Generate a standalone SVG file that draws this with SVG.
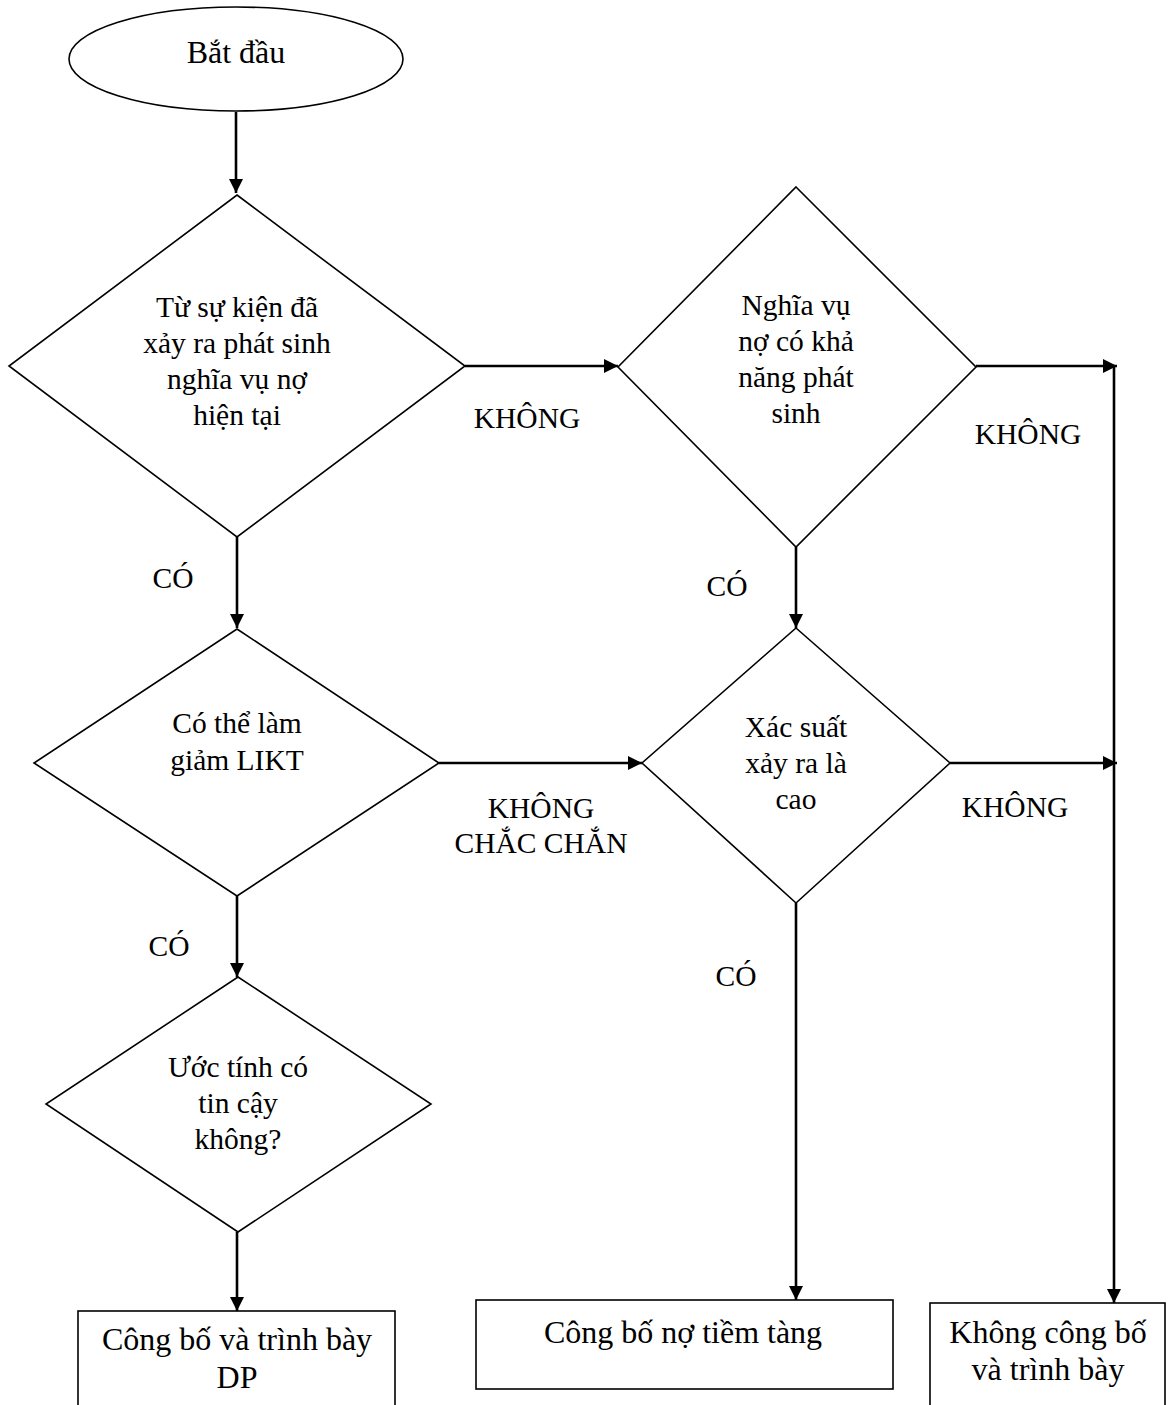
<svg xmlns="http://www.w3.org/2000/svg" width="1168" height="1405" viewBox="0 0 1168 1405">
  <style>
    .shape { fill: #ffffff; stroke: #000000; stroke-width: 1.6; }
    .wire { fill: none; stroke: #000000; stroke-width: 2.6; }
    text { font-family: "Liberation Serif", "Times New Roman", serif; fill: #000000; text-anchor: middle; }
    .big { font-size: 32px; }
    .mid { font-size: 29.5px; }
  </style>
  <defs>
    <marker id="arrow" markerUnits="userSpaceOnUse" markerWidth="16" markerHeight="16" viewBox="0 0 16 16" refX="15" refY="8" orient="auto">
      <path d="M1,1 L15,8 L1,15 Z" fill="#000000"/>
    </marker>
  </defs>

  <rect width="1168" height="1405" fill="#ffffff"/>

  <!-- connectors -->
  <g id="connectors">
    <line class="wire" x1="236" y1="112" x2="236" y2="193" marker-end="url(#arrow)"/>
    <line class="wire" x1="237" y1="537" x2="237" y2="628" marker-end="url(#arrow)"/>
    <line class="wire" x1="237" y1="896" x2="237" y2="977" marker-end="url(#arrow)"/>
    <line class="wire" x1="237" y1="1232" x2="237" y2="1311" marker-end="url(#arrow)"/>
    <line class="wire" x1="465" y1="366" x2="618" y2="366" marker-end="url(#arrow)"/>
    <line class="wire" x1="439" y1="763" x2="642" y2="763" marker-end="url(#arrow)"/>
    <line class="wire" x1="796" y1="547" x2="796" y2="628" marker-end="url(#arrow)"/>
    <line class="wire" x1="796" y1="903" x2="796" y2="1300" marker-end="url(#arrow)"/>
    <line class="wire" x1="976" y1="366" x2="1117" y2="366" marker-end="url(#arrow)"/>
    <line class="wire" x1="950" y1="763" x2="1117" y2="763" marker-end="url(#arrow)"/>
    <line class="wire" x1="1114" y1="366" x2="1114" y2="1303" marker-end="url(#arrow)"/>

    <text class="mid" x="527" y="428">KHÔNG</text>
    <text class="mid" x="1028" y="444">KHÔNG</text>
    <text class="mid" x="173" y="588">CÓ</text>
    <text class="mid" x="727" y="596">CÓ</text>
    <text class="mid" x="541" y="818">KHÔNG</text>
    <text class="mid" x="541" y="853">CHẮC CHẮN</text>
    <text class="mid" x="1015" y="817">KHÔNG</text>
    <text class="mid" x="169" y="956">CÓ</text>
    <text class="mid" x="736" y="986">CÓ</text>
  </g>

  <!-- start -->
  <g id="start">
    <ellipse class="shape" cx="236" cy="59" rx="167" ry="52"/>
    <text class="big" x="236" y="63">Bắt đầu</text>
  </g>

  <!-- decision: present obligation -->
  <g id="present-obligation">
    <polygon class="shape" points="237,195 465,366 237,537 9,366"/>
    <text class="mid" x="237" y="317">Từ sự kiện đã</text>
    <text class="mid" x="237" y="353">xảy ra phát sinh</text>
    <text class="mid" x="237" y="389">nghĩa vụ nợ</text>
    <text class="mid" x="237" y="425">hiện tại</text>
  </g>

  <!-- decision: possible obligation -->
  <g id="possible-obligation">
    <polygon class="shape" points="796,187 976,367 796,547 618,367"/>
    <text class="mid" x="796" y="315">Nghĩa vụ</text>
    <text class="mid" x="796" y="351">nợ có khả</text>
    <text class="mid" x="796" y="387">năng phát</text>
    <text class="mid" x="796" y="423">sinh</text>
  </g>

  <!-- decision: outflow of economic benefits -->
  <g id="outflow">
    <polygon class="shape" points="237,629 439,763 237,896 34,763"/>
    <text class="mid" x="237" y="733">Có thể làm</text>
    <text class="mid" x="237" y="770">giảm LIKT</text>
  </g>

  <!-- decision: probability -->
  <g id="probability">
    <polygon class="shape" points="796,628 950,763 796,903 642,763"/>
    <text class="mid" x="796" y="737">Xác suất</text>
    <text class="mid" x="796" y="773">xảy ra là</text>
    <text class="mid" x="796" y="809">cao</text>
  </g>

  <!-- decision: reliable estimate -->
  <g id="reliable-estimate">
    <polygon class="shape" points="238,977 431,1104 238,1232 46,1104"/>
    <text class="mid" x="238" y="1077">Ước tính có</text>
    <text class="mid" x="238" y="1113">tin cậy</text>
    <text class="mid" x="238" y="1149">không?</text>
  </g>

  <!-- outcomes -->
  <g id="provision">
    <rect class="shape" x="78" y="1311" width="317" height="110"/>
    <text class="big" x="237" y="1350">Công bố và trình bày</text>
    <text class="big" x="237" y="1388">DP</text>
  </g>

  <g id="contingent-liability">
    <rect class="shape" x="476" y="1300" width="417" height="89"/>
    <text class="big" x="683" y="1343">Công bố nợ tiềm tàng</text>
  </g>

  <g id="no-disclosure">
    <rect class="shape" x="930" y="1303" width="235" height="120"/>
    <text class="big" x="1048" y="1343">Không công bố</text>
    <text class="big" x="1048" y="1380">và trình bày</text>
  </g>
</svg>
